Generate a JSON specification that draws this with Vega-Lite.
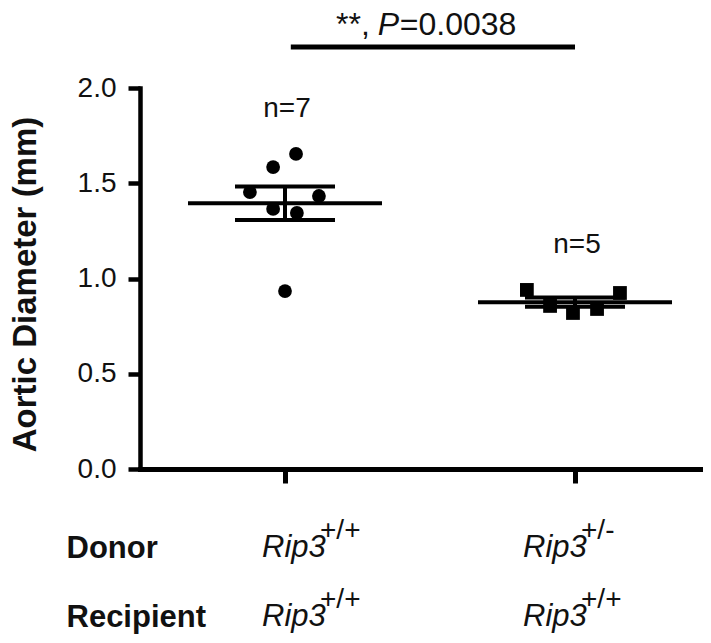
{
  "$schema": "https://vega.github.io/schema/vega-lite/v6.json",
  "width": 560,
  "height": 381,
  "autosize": {"type": "none"},
  "padding": {"left": 140, "top": 88, "right": 11, "bottom": 174},
  "background": "white",
  "config": {"view": {"stroke": null}, "font": "Liberation Sans", "text": {"font": "Liberation Sans", "color": "#111"}},
  "datasets": {
    "points": [
      {"group": "A", "pos": 1, "x": 1.038, "value": 1.654},
      {"group": "A", "pos": 1, "x": 0.959, "value": 1.585},
      {"group": "A", "pos": 1, "x": 0.879, "value": 1.454},
      {"group": "A", "pos": 1, "x": 1.117, "value": 1.433},
      {"group": "A", "pos": 1, "x": 0.959, "value": 1.365},
      {"group": "A", "pos": 1, "x": 1.041, "value": 1.344},
      {"group": "A", "pos": 1, "x": 1.0, "value": 0.934},
      {"group": "B", "pos": 2, "x": 1.834, "value": 0.94},
      {"group": "B", "pos": 2, "x": 1.914, "value": 0.856},
      {"group": "B", "pos": 2, "x": 1.993, "value": 0.819},
      {"group": "B", "pos": 2, "x": 2.076, "value": 0.84},
      {"group": "B", "pos": 2, "x": 2.155, "value": 0.924}
    ],
    "sig": [{"from": 1.02, "to": 2.0, "y": 2.215, "stars": "**,", "p": "P", "rest": "=0.0038"}],
    "labels": [
      {"row": "Donor", "pos": 1, "gene": "Rip3", "sup": "+/+"},
      {"row": "Donor", "pos": 2, "gene": "Rip3", "sup": "+/-"},
      {"row": "Recipient", "pos": 1, "gene": "Rip3", "sup": "+/+"},
      {"row": "Recipient", "pos": 2, "gene": "Rip3", "sup": "+/+"}
    ]
  },
  "layer": [
    {
      "layer": [
        {
          "data": {"name": "points"},
          "mark": {"type": "point", "filled": true, "opacity": 1, "size": 190, "color": "#000"},
          "encoding": {
            "x": {
              "field": "x", "type": "quantitative",
              "scale": {"domain": [0.5, 2.431], "nice": false, "zero": false},
              "axis": {"values": [1, 2], "labels": false, "grid": false, "title": null, "domainWidth": 5, "domainColor": "#000", "tickColor": "#000", "tickWidth": 5, "tickSize": 14, "domainCap": "square"}
            },
            "y": {
              "field": "value", "type": "quantitative",
              "scale": {"domain": [0, 2], "nice": false},
              "axis": {"values": [0, 0.5, 1, 1.5, 2], "format": ".1f", "grid": false, "title": "Aortic Diameter (mm)", "titleFontSize": 33, "titleFontWeight": "bold", "titleColor": "#111", "titleFont": "Liberation Sans", "titleX": -105, "titleY": 196, "titleAngle": -90, "titleAlign": "center", "titleBaseline": "alphabetic", "labelFontSize": 28, "labelColor": "#111", "labelFont": "Liberation Sans", "labelPadding": 12, "tickSize": 12, "tickWidth": 4.5, "tickColor": "#000", "domainWidth": 4.5, "domainColor": "#000", "domainCap": "square"}
            },
            "shape": {"field": "group", "type": "nominal", "scale": {"domain": ["A", "B"], "range": ["circle", "square"]}, "legend": null}
          }
        },
        {
          "data": {"name": "points"},
          "mark": {"type": "tick", "orient": "horizontal", "size": 194, "thickness": 4, "color": "#000", "opacity": 1},
          "encoding": {
            "x": {"field": "pos", "type": "quantitative", "title": null},
            "y": {"aggregate": "mean", "field": "value", "type": "quantitative", "title": "Aortic Diameter (mm)"}
          }
        },
        {
          "data": {"name": "points"},
          "mark": {"type": "errorbar", "extent": "stderr", "orient": "vertical", "color": "#000", "opacity": 1, "ticks": {"size": 100, "thickness": 4, "color": "#000", "opacity": 1}, "rule": {"strokeWidth": 4, "color": "#000", "opacity": 1}},
          "encoding": {
            "x": {"field": "pos", "type": "quantitative", "title": null},
            "y": {"field": "value", "type": "quantitative", "title": "Aortic Diameter (mm)"}
          }
        },
        {
          "data": {"name": "points"},
          "transform": [
            {"aggregate": [{"op": "max", "field": "value", "as": "vmax"}, {"op": "count", "as": "n"}], "groupby": ["pos"]},
            {"calculate": "'n=' + datum.n", "as": "label"}
          ],
          "mark": {"type": "text", "fontSize": 28, "dy": -37, "dx": 2, "baseline": "alphabetic", "align": "center", "color": "#111"},
          "encoding": {
            "x": {"field": "pos", "type": "quantitative", "title": null},
            "y": {"field": "vmax", "type": "quantitative", "title": "Aortic Diameter (mm)"},
            "text": {"field": "label"}
          }
        },
        {
          "data": {"name": "sig"},
          "mark": {"type": "rule", "strokeWidth": 5, "color": "#000"},
          "encoding": {
            "x": {"field": "from", "type": "quantitative", "title": null},
            "x2": {"field": "to"},
            "y": {"field": "y", "type": "quantitative", "title": "Aortic Diameter (mm)"}
          }
        },
        {
          "data": {"name": "sig"},
          "mark": {"type": "text", "fontSize": 32, "align": "right", "baseline": "alphabetic", "dx": 79, "dy": -12, "color": "#111"},
          "encoding": {
            "x": {"field": "from", "type": "quantitative", "title": null},
            "y": {"field": "y", "type": "quantitative", "title": "Aortic Diameter (mm)"},
            "text": {"field": "stars"}
          }
        },
        {
          "data": {"name": "sig"},
          "mark": {"type": "text", "fontSize": 32, "fontStyle": "italic", "align": "left", "baseline": "alphabetic", "dx": 87, "dy": -12, "color": "#111"},
          "encoding": {
            "x": {"field": "from", "type": "quantitative", "title": null},
            "y": {"field": "y", "type": "quantitative", "title": "Aortic Diameter (mm)"},
            "text": {"field": "p"}
          }
        },
        {
          "data": {"name": "sig"},
          "mark": {"type": "text", "fontSize": 32, "align": "left", "baseline": "alphabetic", "dx": 109, "dy": -12, "color": "#111"},
          "encoding": {
            "x": {"field": "from", "type": "quantitative", "title": null},
            "y": {"field": "y", "type": "quantitative", "title": "Aortic Diameter (mm)"},
            "text": {"field": "rest"}
          }
        }
      ]
    },
    {
      "data": {"name": "labels"},
      "encoding": {
        "x": {"field": "pos", "type": "quantitative", "scale": {"domain": [1, 2], "range": [122, 383], "nice": false, "zero": false}, "axis": null},
        "y": {
          "field": "row", "type": "nominal",
          "scale": {"type": "point", "domain": ["Donor", "Recipient"], "range": [469, 538], "padding": 0},
          "axis": {"orient": "left", "domain": false, "ticks": false, "grid": false, "title": null, "labelAlign": "left", "labelPadding": 74, "labelFontSize": 31, "labelFontWeight": "bold", "labelColor": "#111", "labelBaseline": "alphabetic", "labelFont": "Liberation Sans"}
        }
      },
      "layer": [
        {
          "mark": {"type": "text", "fontSize": 31, "fontStyle": "italic", "align": "left", "baseline": "alphabetic", "color": "#111"},
          "encoding": {"text": {"field": "gene"}}
        },
        {
          "mark": {"type": "text", "fontSize": 28, "align": "left", "baseline": "alphabetic", "dx": 58, "dy": -18, "color": "#111"},
          "encoding": {"text": {"field": "sup"}}
        }
      ]
    }
  ],
  "resolve": {"scale": {"x": "independent", "y": "independent"}, "axis": {"x": "independent", "y": "independent"}}
}
